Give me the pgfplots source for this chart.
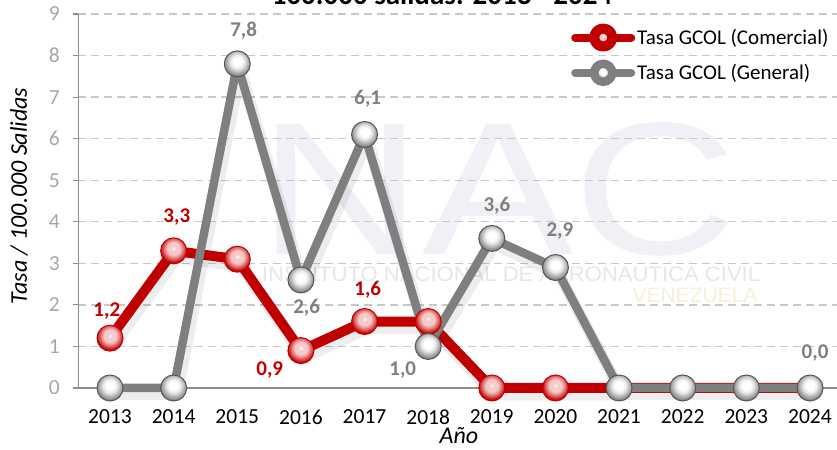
\documentclass[border=0pt]{standalone}
\usepackage{pgfplots}
\pgfplotsset{compat=1.18}
\usepackage{fontspec}
\setmainfont{Carlito}
\newfontfamily\wmfont{Liberation Sans}
\definecolor{rdark}{HTML}{C00000}
\definecolor{rdeep}{HTML}{8A0000}
\definecolor{rmid}{HTML}{E06A6A}
\definecolor{rpale}{HTML}{F6CACA}
\definecolor{gline}{HTML}{7F7F7F}
\definecolor{gdeep}{HTML}{555555}
\definecolor{gmid}{HTML}{B5B5B5}
\definecolor{gpale}{HTML}{E6E6E6}
\definecolor{ticklab}{HTML}{A6A6A6}
\definecolor{gridc}{HTML}{C8C8C8}
\definecolor{axc}{HTML}{8C8C8C}
\definecolor{wmblue}{HTML}{EFF1F6}
\definecolor{wmgray}{HTML}{E6E6E6}
\definecolor{wmyel}{HTML}{F5F0DA}
\pgfdeclareradialshading{redpearl}{\pgfpoint{0bp}{5bp}}{color(0bp)=(white); color(5bp)=(rpale); color(12bp)=(rpale); color(19bp)=(rmid); color(26bp)=(rdark); color(32bp)=(rdeep); color(100bp)=(rdeep)}
\pgfdeclareradialshading{graypearl}{\pgfpoint{0bp}{5bp}}{color(0bp)=(white); color(8bp)=(white); color(14bp)=(gpale); color(20bp)=(gmid); color(27bp)=(gline); color(33bp)=(gdeep); color(100bp)=(gdeep)}
\begin{document}
\begin{tikzpicture}[x=1bp,y=1bp]
% faint watermark behind the chart
\node[wmblue, font=\wmfont\fontsize{189bp}{190bp}\selectfont, anchor=base, xscale=1.2, inner sep=0pt] at (498,195) {NAC};
\node[wmgray, font=\wmfont\fontsize{21bp}{24bp}\selectfont, anchor=base, xscale=1.05, inner sep=0pt] at (511,168) {INSTITUTO NACIONAL DE AERONAUTICA CIVIL};
\node[wmyel, font=\wmfont\fontsize{21bp}{24bp}\selectfont, anchor=base, inner sep=0pt] at (695,147) {VENEZUELA};
\begin{axis}[
  at={(78.2bp,62bp)}, anchor=south west,
  scale only axis, width=763.6bp, height=374bp,
  xmin=2012.5, xmax=2024.5, ymin=0, ymax=9,
  clip=false,
  axis x line*=bottom, axis y line*=left,
  axis line style={axc, line width=1.3bp, -},
  xtick={2013,...,2024},
  minor xtick={2012.5,2013.5,...,2024.5},
  ytick={0,...,9},
  tick align=outside,
  major tick length=5bp, minor tick length=6bp,
  xtick style={draw=none},
  minor tick style={axc, line width=1.2bp},
  ytick style={axc, line width=1.2bp},
  ymajorgrids,
  major grid style={gridc, line width=1.3bp, dash pattern=on 8bp off 5bp},
  /pgf/number format/1000 sep={},
  /pgf/number format/assume math mode=true,
  xticklabel style={font=\fontsize{21.5bp}{25bp}\selectfont, black, yshift=-13bp},
  yticklabel style={font=\fontsize{21.5bp}{25bp}\selectfont, ticklab, xshift=-10bp},
  legend style={draw=none, fill=none, at={(axis description cs:0.6454,0.975)}, anchor=north west,
     font=\fontsize{21bp}{25bp}\selectfont, inner sep=0pt, row sep=8bp,
     nodes={inner xsep=2bp}},
  legend cell align=left,
]
% shadows
\addplot[forget plot, black, opacity=0.07, line width=13bp, line join=round, xshift=3bp, yshift=-6bp]
  coordinates {(2013,1.2)(2014,3.3)(2015,3.1)(2016,0.9)(2017,1.6)(2018,1.6)(2019,0)(2020,0)(2021,0)};
% Comercial line
\addplot[rdark, line width=10bp, line join=round, mark=none,
  legend image code/.code={
    \draw[rdark, line width=8bp, line cap=round] (0bp,0bp) -- (56bp,0bp);
    \shade[shading=redpearl] (28bp,0bp) circle (9bp);
    \draw[rdark, line width=0.8bp] (28bp,0bp) circle (9bp);}]
  coordinates {(2013,1.2)(2014,3.3)(2015,3.1)(2016,0.9)(2017,1.6)(2018,1.6)(2019,0)(2020,0)(2021,0)(2022,0)(2023,0)(2024,0)};
\addlegendentry{Tasa GCOL (Comercial)}
\addplot[forget plot, draw=none, mark=none, nodes near coords={}, nodes near coords align={center},
  every node near coord/.append style={anchor=center, circle, inner sep=0pt, minimum size=26bp, shading=redpearl, draw=rdark, line width=1bp}]
  coordinates {(2013,1.2)(2014,3.3)(2015,3.1)(2016,0.9)(2017,1.6)(2018,1.6)(2019,0)(2020,0)};
% General shadow
\addplot[forget plot, black, opacity=0.07, line width=12bp, line join=round, xshift=3bp, yshift=-6bp]
  coordinates {(2013,0)(2014,0)(2015,7.8)(2016,2.6)(2017,6.1)(2018,1.0)(2019,3.6)(2020,2.9)(2021,0)(2022,0)(2023,0)(2024,0)};
% General line
\addplot[gline, line width=8.5bp, line join=round, mark=none,
  legend image code/.code={
    \draw[gline, line width=8bp, line cap=round] (0bp,0bp) -- (56bp,0bp);
    \shade[shading=graypearl] (28bp,0bp) circle (9bp);
    \draw[gline, line width=0.8bp] (28bp,0bp) circle (9bp);}]
  coordinates {(2013,0)(2014,0)(2015,7.8)(2016,2.6)(2017,6.1)(2018,1.0)(2019,3.6)(2020,2.9)(2021,0)(2022,0)(2023,0)(2024,0)};
\addlegendentry{Tasa GCOL (General)}
\addplot[forget plot, draw=none, mark=none, nodes near coords={}, nodes near coords align={center},
  every node near coord/.append style={anchor=center, circle, inner sep=0pt, minimum size=26bp, shading=graypearl, draw=gdeep, line width=1bp}]
  coordinates {(2013,0)(2014,0)(2015,7.8)(2016,2.6)(2017,6.1)(2018,1.0)(2019,3.6)(2020,2.9)(2021,0)(2022,0)(2023,0)(2024,0)};
% data labels
\begin{scope}[every node/.style={font=\fontsize{21bp}{25bp}\selectfont\bfseries}]
\node[rdark] at (axis cs:2012.95,1.85) {1,2};
\node[rdark] at (axis cs:2014.05,4.11) {3,3};
\node[rdark] at (axis cs:2015.51,0.43) {0,9};
\node[rdark] at (axis cs:2017.05,2.36) {1,6};
\node[gline] at (axis cs:2015.1,8.61) {7,8};
\node[gline] at (axis cs:2016.09,1.92) {2,6};
\node[gline] at (axis cs:2017.05,6.95) {6,1};
\node[gline] at (axis cs:2017.6,0.43) {1,0};
\node[gline] at (axis cs:2019.08,4.38) {3,6};
\node[gline] at (axis cs:2020.07,3.78) {2,9};
\node[gline] at (axis cs:2024.08,0.84) {0,0};
\end{scope}
\end{axis}
\node[font=\fontsize{24bp}{28bp}\selectfont\itshape, rotate=90] at (19,254) {Tasa / 100.000 Salidas};
\node[font=\fontsize{24bp}{28bp}\selectfont\itshape, anchor=base] at (459,6) {Año};
\node[font=\fontsize{29bp}{34bp}\selectfont\bfseries, anchor=base] at (442,445) {100.000 salidas: 2013 - 2024};
\pgfresetboundingbox
\useasboundingbox (0,0) rectangle (837,450);
\end{tikzpicture}
\end{document}
